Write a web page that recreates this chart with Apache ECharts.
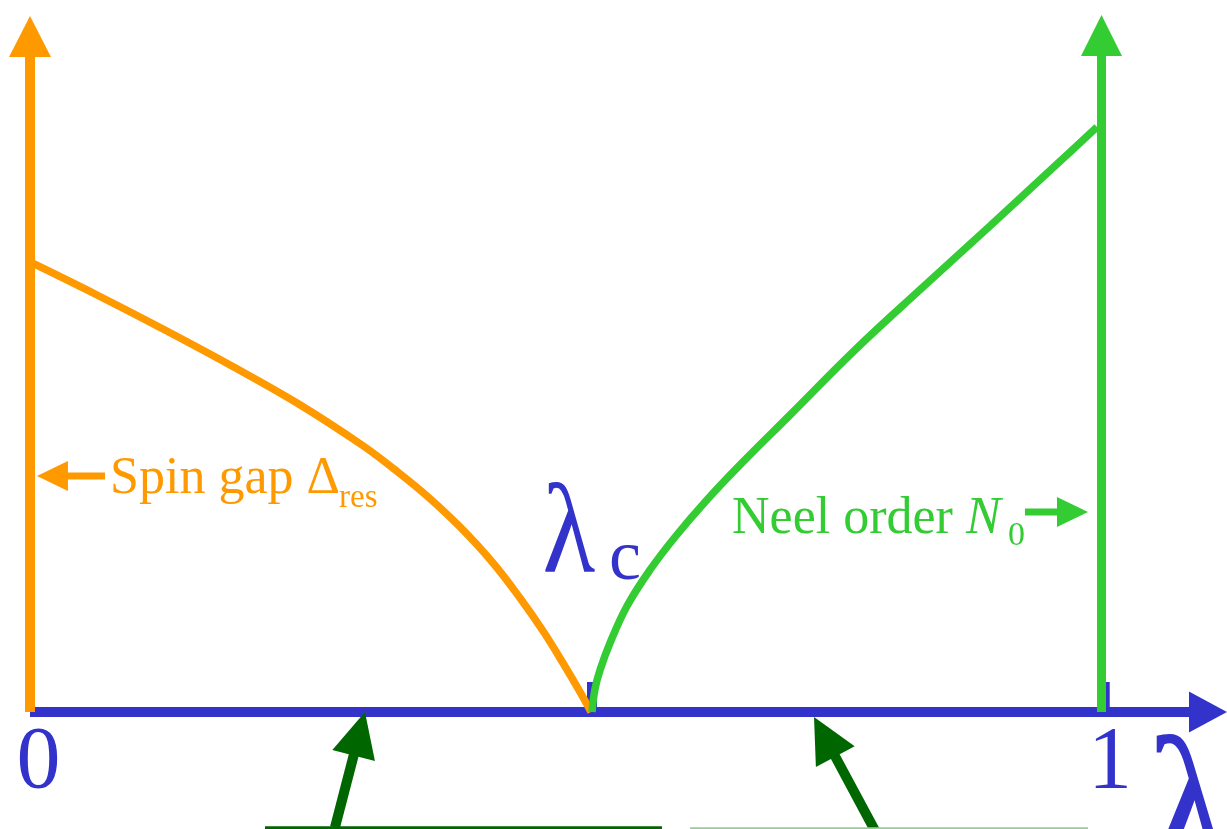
<!DOCTYPE html>
<html><head><meta charset="utf-8">
<script src="https://cdn.jsdelivr.net/npm/echarts@6/dist/echarts.min.js"></script>
<style>html,body{margin:0;padding:0;background:#fff}#c{width:1227px;height:829px}</style>
</head><body><div id="c"></div>
<script>
// ---- data (x: coupling lambda, 0..1 ; y: arbitrary units) ----
const lambdaC = 0.5245;
const gapCurve = [[0,0.6429],[0.0625,0.5957],[0.1241,0.5471],[0.1867,0.4957],[0.2492,0.4414],[0.3098,0.3814],[0.3397,0.3471],[0.3705,0.3086],[0.4013,0.2643],[0.4321,0.2129],[0.4573,0.1629],[0.4788,0.1157],[0.4974,0.07],[0.5133,0.0286],[0.5236,0]];
const neelCurve = [[0.5245,0],[0.5273,0.0329],[0.532,0.06],[0.5413,0.0986],[0.5572,0.1514],[0.5786,0.2029],[0.602,0.25],[0.63,0.3],[0.6626,0.3529],[0.7093,0.4243],[0.7709,0.5186],[0.8334,0.6071],[0.8959,0.6943],[0.9575,0.7814],[0.9958,0.8357]];
const tickValues = [0, 1];
const tickLabels = ['0', '1'];
const tickLabelY = -0.0746;
const gapAxis = [[0, 0, 0, 0.9943]];
const neelAxis = [[1, 0, 1, 0.9957]];
const lambdaAxis = [[0, 0, 1.1171, 0]];
const axisMarks = [[lambdaC, 0, lambdaC, 0.0414], [1.003, 0, 1.003, 0.0414]];
const gapPointer = [[0.07, 0.337, 0.0065, 0.337]];
const neelPointer = [[0.9286, 0.2857, 0.9874, 0.2857]];
const phaseArrows = [[0.2846, -0.165, 0.3126, 0], [0.7895, -0.172, 0.7317, -0.0071]];
const phaseLineDark = [[0.2193, -0.1653, 0.5889, -0.1653]];
const phaseLineLight = [[0.616, -0.1661, 0.9865, -0.1661]];
const labelTexts = ['Spin gap Δ', 'res', 'Neel order {i|N}', '0', 'λ', 'c', 'λ'];
const labelPos = [[0.0747,0.3329],[0.2884,0.3056],[0.6552,0.2757],[0.9127,0.2517],[0.503,0.2494],[0.5553,0.2163],[1.0826,-0.1564]];

// ---- styles ----
const SERIF = "'Liberation Serif','Times New Roman',serif";
const ORANGE = '#ff9900', GREEN = '#33cc33', BLUE = '#3333cc', DKGREEN = '#006600', LTGREEN = '#99cc99';
const labelStyle = [
  {fontSize:52, fill:ORANGE, align:'left'},
  {fontSize:33, fill:ORANGE, align:'left'},
  {fontSize:52, fill:GREEN, align:'left', rich:{i:{fontSize:52, fontStyle:'italic', fontFamily:SERIF, fill:GREEN}}},
  {fontSize:34, fill:GREEN, align:'left'},
  {fontSize:128, fill:BLUE, align:'center', sx:0.85},
  {fontSize:72, fill:BLUE, align:'center'},
  {fontSize:200, fill:BLUE, align:'center', sx:0.9}
];

function arrowRender(w, headLen, headHalf, color) {
  return function (params, api) {
    const p1 = api.coord([api.value(0), api.value(1)]);
    const p2 = api.coord([api.value(2), api.value(3)]);
    const dx = p2[0] - p1[0], dy = p2[1] - p1[1];
    const L = Math.hypot(dx, dy) || 1;
    const ux = dx / L, uy = dy / L, nx = -uy, ny = ux;
    const bx = p2[0] - ux * headLen, by = p2[1] - uy * headLen;
    const children = [{
      type: 'line',
      shape: {x1: p1[0], y1: p1[1], x2: bx + ux, y2: by + uy},
      style: {stroke: color, lineWidth: w, lineCap: 'butt'}
    }];
    if (headLen > 0) {
      children.push({
        type: 'polygon',
        shape: {points: [[p2[0], p2[1]], [bx + nx * headHalf, by + ny * headHalf], [bx - nx * headHalf, by - ny * headHalf]]},
        style: {fill: color}
      });
    }
    return {type: 'group', children: children};
  };
}
function arrowSeries(data, w, hl, hh, color, z) {
  return {type: 'custom', coordinateSystem: 'cartesian2d', clip: false, silent: true, z: z,
    encode: {x: [0, 2], y: [1, 3]}, data: data, renderItem: arrowRender(w, hl, hh, color)};
}

const chart = echarts.init(document.getElementById('c'), null, {renderer: 'canvas'});
chart.setOption({
  animation: false,
  backgroundColor: '#ffffff',
  grid: {left: 30, right: 125.5, top: 12, bottom: 117, containLabel: false},
  xAxis: {type: 'value', min: 0, max: 1, interval: 1, show: false},
  yAxis: {type: 'value', min: 0, max: 1, show: false},
  series: [
    arrowSeries(axisMarks, 10, 0, 0, BLUE, 1),
    arrowSeries(lambdaAxis, 10, 38, 20.5, BLUE, 2),
    {type: 'line', data: gapCurve, smooth: 0.4, showSymbol: false, clip: false, silent: true, z: 3,
      lineStyle: {color: ORANGE, width: 7.5}},
    {type: 'line', data: neelCurve, smooth: 0.4, showSymbol: false, clip: false, silent: true, z: 4,
      lineStyle: {color: GREEN, width: 7.5}},
    arrowSeries(gapAxis, 10, 41, 21, ORANGE, 5),
    arrowSeries(neelAxis, 9, 41, 20.5, GREEN, 5),
    arrowSeries(gapPointer, 7, 31, 15, ORANGE, 5),
    arrowSeries(neelPointer, 7, 31, 15, GREEN, 5),
    arrowSeries(phaseArrows, 10, 45, 22, DKGREEN, 5),
    arrowSeries(phaseLineDark, 3, 0, 0, DKGREEN, 5),
    arrowSeries(phaseLineLight, 2, 0, 0, LTGREEN, 5),
    {type: 'custom', coordinateSystem: 'cartesian2d', clip: false, silent: true, z: 6,
      data: tickValues.map(function (v) { return [v, tickLabelY]; }),
      renderItem: function (params, api) {
        const p = api.coord([api.value(0), api.value(1)]);
        return {type: 'text', x: p[0] + 8.5, y: p[1],
          style: {text: tickLabels[params.dataIndex], fontFamily: SERIF, fontSize: 88, fill: BLUE, align: 'center', verticalAlign: 'middle'}};
      }},
    {type: 'custom', coordinateSystem: 'cartesian2d', clip: false, silent: true, z: 6,
      data: labelPos,
      renderItem: function (params, api) {
        const p = api.coord([api.value(0), api.value(1)]);
        const st = labelStyle[params.dataIndex];
        return {type: 'text', x: p[0], y: p[1], scaleX: st.sx || 1, scaleY: 1,
          style: {text: labelTexts[params.dataIndex], fontFamily: SERIF, fontSize: st.fontSize, fill: st.fill,
            align: st.align, verticalAlign: 'middle', rich: st.rich}};
      }}
  ]
});
</script></body></html>
